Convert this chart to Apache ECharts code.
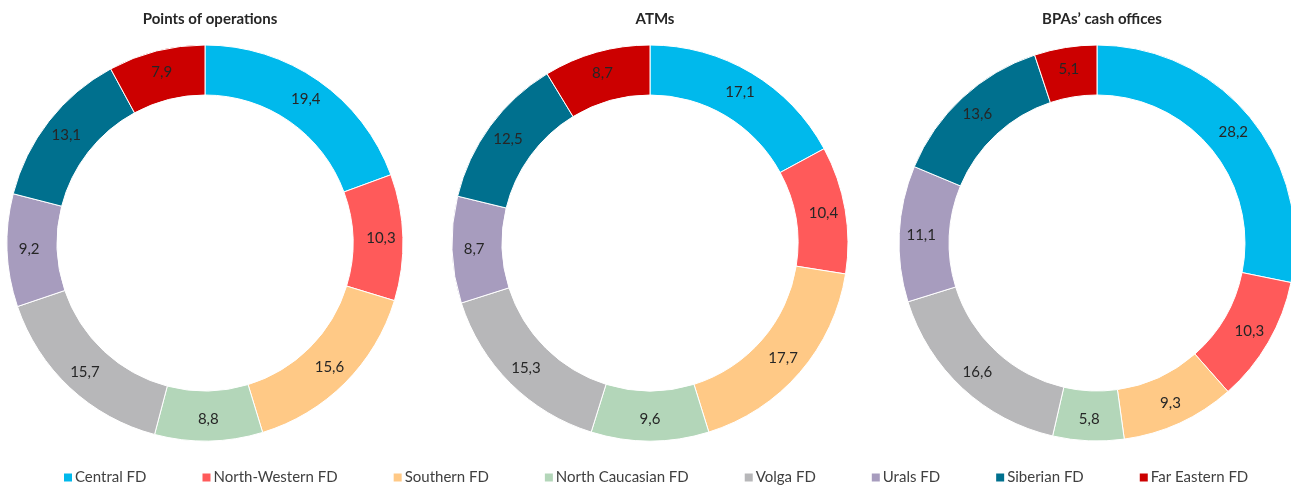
<!DOCTYPE html>
<html>
<head>
<meta charset="utf-8">
<script src="https://cdn.jsdelivr.net/npm/echarts@6/dist/echarts.min.js"></script>
<style>
  html, body { margin: 0; padding: 0; background: #fff; }
  #chart { width: 1291px; height: 487px; }
</style>
</head>
<body>
<div id="chart"></div>
<script>
const regions = ['Central FD', 'North-Western FD', 'Southern FD', 'North Caucasian FD',
  'Volga FD', 'Urals FD', 'Siberian FD', 'Far Eastern FD'];
const colors = ['#00b9ec', '#ff5a5a', '#ffc986', '#b3d6b9', '#b7b7b9', '#a79cbe', '#00708e', '#cc0000'];

const titles = ['Points of operations', 'ATMs', 'BPAs\u2019 cash offices'];
const pointsOfOperations = [19.4, 10.3, 15.6, 8.8, 15.7, 9.2, 13.1, 7.9];
const atms = [17.1, 10.4, 17.7, 9.6, 15.3, 8.7, 12.5, 8.7];
const cashOffices = [28.2, 10.3, 9.3, 5.8, 16.6, 11.1, 13.6, 5.1];

const allValues = [pointsOfOperations, atms, cashOffices];
const centersX = [205, 650, 1097];

const font = 'Lato, "Noto Sans", sans-serif';
const chart = echarts.init(document.getElementById('chart'));

const option = {
  color: colors,
  animation: false,
  title: titles.map((t, i) => ({
    text: t,
    left: centersX[i],
    top: 7,
    textAlign: 'center',
    textStyle: { fontFamily: font, fontSize: 15, fontWeight: 'bold', color: '#262626' }
  })),
  legend: {
    data: regions,
    bottom: -3,
    left: 57,
    icon: 'rect',
    itemWidth: 10,
    itemHeight: 10,
    itemGap: 54,
    textStyle: { fontFamily: font, fontSize: 15, color: '#404040', padding: [0, 0, 0, -3] }
  },
  series: allValues.map((vals, i) => ({
    type: 'pie',
    name: titles[i],
    center: [centersX[i], 243],
    radius: [148, 198],
    startAngle: 90,
    clockwise: true,
    avoidLabelOverlap: false,
    itemStyle: { borderColor: '#fff', borderWidth: 1 },
    label: {
      show: true,
      position: 'inside',
      fontFamily: font,
      fontSize: 15,
      color: '#262626',
      formatter: p => String(p.value).replace('.', ',')
    },
    labelLine: { show: false },
    emphasis: { disabled: true },
    data: regions.map((r, j) => ({ name: r, value: vals[j] }))
  }))
};

chart.setOption(option);
</script>
</body>
</html>
